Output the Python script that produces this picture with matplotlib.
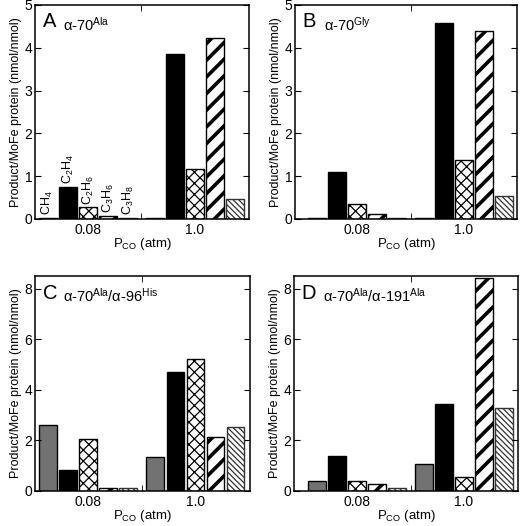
import numpy as np
import matplotlib
matplotlib.use("Agg")
from matplotlib import pyplot as plt

plt.rcParams["font.family"] = ["Liberation Sans", "DejaVu Sans"]
plt.rcParams["mathtext.fontset"] = "custom"
plt.rcParams["mathtext.rm"] = "Liberation Sans"
plt.rcParams["mathtext.it"] = "Liberation Sans:italic"
plt.rcParams["mathtext.bf"] = "Liberation Sans:bold"
plt.rcParams["axes.linewidth"] = 1.1

pressures = ["0.08", "1.0"]
products = ["CH$_4$", "C$_2$H$_4$", "C$_2$H$_6$", "C$_3$H$_6$", "C$_3$H$_8$"]

# product yields (nmol/nmol) at P_CO = 0.08 and 1.0 atm
a_low = [0.03, 0.75, 0.27, 0.07, 0.03]
a_high = [0.02, 3.86, 1.16, 4.24, 0.47]
b_low = [0.02, 1.09, 0.34, 0.11, 0.02]
b_high = [0.02, 4.57, 1.37, 4.40, 0.53]
c_low = [2.60, 0.83, 2.04, 0.10, 0.13]
c_high = [1.33, 4.72, 5.21, 2.13, 2.53]
d_low = [0.41, 1.39, 0.40, 0.28, 0.11]
d_high = [1.08, 3.44, 0.56, 8.43, 3.28]

panel_letters = ["A", "B", "C", "D"]
panel_names = [r"α-70$^{\mathregular{Ala}}$", r"α-70$^{\mathregular{Gly}}$",
               r"α-70$^{\mathregular{Ala}}$/α-96$^{\mathregular{His}}$",
               r"α-70$^{\mathregular{Ala}}$/α-191$^{\mathregular{Ala}}$"]

styles = [
    dict(facecolor="#727272", edgecolor="black", hatch=None),
    dict(facecolor="black", edgecolor="black", hatch=None),
    dict(facecolor="white", edgecolor="black", hatch="xxx"),
    dict(facecolor="white", edgecolor="black", hatch="//"),
    dict(facecolor="white", edgecolor="#333333", hatch="\\\\\\\\\\\\"),
]
hatch_lw = [1.0, 1.0, 0.9, 2.6, 0.9]

fig = plt.figure(figsize=(5.2, 5.26), dpi=100)
rects = [
    [35 / 520, 1 - 219 / 526, 214 / 520, 214 / 526],
    [295 / 520, 1 - 219 / 526, 222 / 520, 214 / 526],
    [35 / 520, 1 - 491 / 526, 215 / 520, 215 / 526],
    [294 / 520, 1 - 491 / 526, 224 / 520, 215 / 526],
]
xlims = [(-0.495, 1.505), (-0.58, 1.495), (-0.495, 1.51), (-0.59, 1.505)]
ylims = [5, 5, 8.5, 8.5]
data = [(a_low, a_high), (b_low, b_high), (c_low, c_high), (d_low, d_high)]

step = 0.187
width = 0.163

for i, rect in enumerate(rects):
    ax = fig.add_axes(rect)
    low, high = data[i]
    for g, vals in enumerate([low, high]):
        for j, v in enumerate(vals):
            x = g + (j - 2) * step
            st = styles[j]
            bars = ax.bar(x, v, width, facecolor=st["facecolor"], edgecolor=st["edgecolor"],
                          hatch=st["hatch"], linewidth=1.0)
            for b in bars:
                if hasattr(b, "set_hatch_linewidth"):
                    b.set_hatch_linewidth(hatch_lw[j])
            if i == 0 and g == 0:
                ax.annotate(products[j], (x, v), xytext=(0, 2), textcoords="offset points",
                            rotation=90, ha="center", va="bottom", fontsize=9)
    ax.set_xlim(*xlims[i])
    ax.set_ylim(0, ylims[i])
    ax.set_xticks([0, 1])
    ax.set_xticklabels(pressures, fontsize=10)
    ax.set_xticks([0.5], minor=True)
    ax.tick_params(axis="x", which="major", length=0, pad=3)
    ax.tick_params(axis="x", which="minor", direction="in", length=4, top=True, bottom=True)
    if ylims[i] == 5:
        ax.set_yticks(range(0, 6))
    else:
        ax.set_yticks(range(0, 9, 2))
    ax.tick_params(axis="y", direction="in", length=4, left=True, right=True, labelsize=10, pad=2)
    ax.set_xlabel(r"P$_{\mathregular{CO}}$ (atm)", fontsize=9.5, labelpad=-1)
    ax.set_ylabel("Product/MoFe protein (nmol/nmol)", fontsize=9, labelpad=2)
    ax.text(0.035, 0.965, panel_letters[i], transform=ax.transAxes, fontsize=14.5,
            ha="left", va="top")
    ax.text(0.13, 0.95, panel_names[i], transform=ax.transAxes, fontsize=10.5,
            ha="left", va="top")

fig.savefig("out.png", dpi=100)
